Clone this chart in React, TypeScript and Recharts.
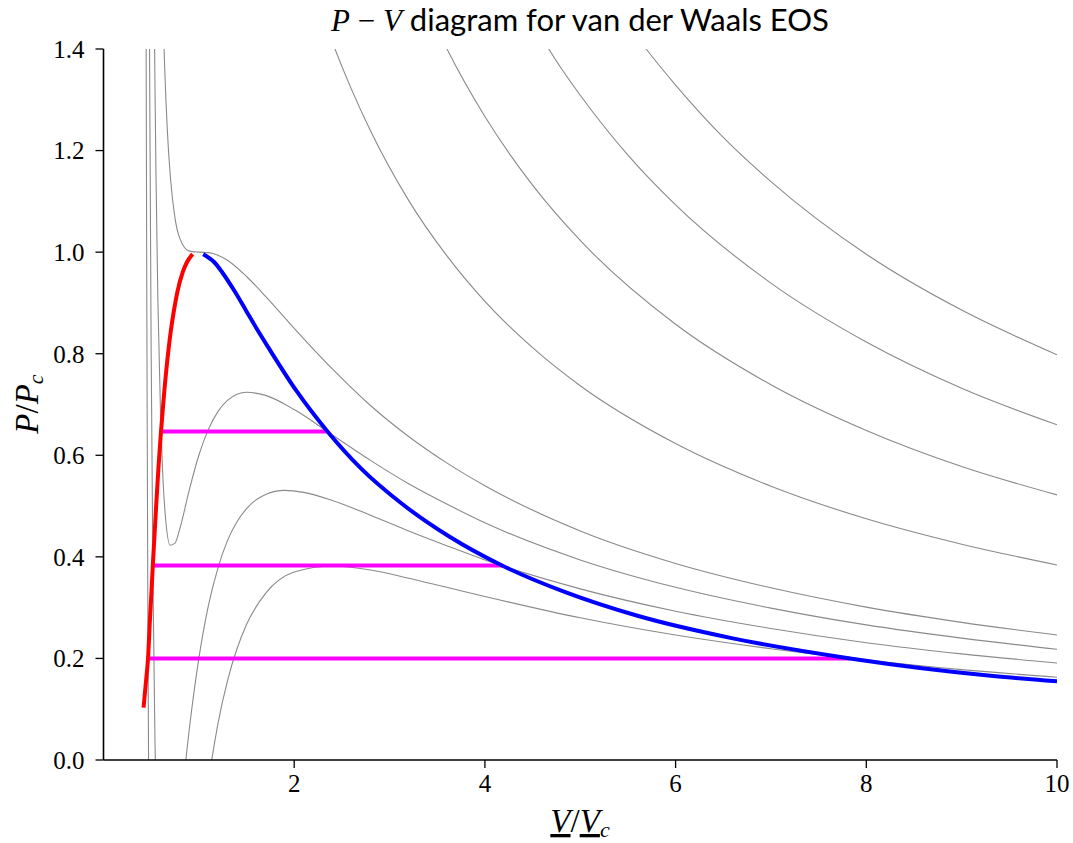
import React from 'react'
import { LineChart, Line, XAxis, YAxis } from 'recharts'

interface Pt {
  v: number
  p: number
}

// isotherms, reduced T = 0.7 ... 3.0
const iso070: Pt[] = [
  { v: 0.44, p: 2.0 }, { v: 0.447, p: 1.41 }, { v: 0.455, p: 0.851 }, { v: 0.465, p: 0.303 },
  { v: 0.48, p: -0.294 }, { v: 0.5, p: -0.8 }, { v: 0.55, p: -1.3 }, { v: 0.6, p: -1.333 },
  { v: 0.7, p: -1.031 }, { v: 0.8, p: -0.688 }, { v: 0.9, p: -0.41 }, { v: 1.0, p: -0.2 },
  { v: 1.1, p: -0.045 }, { v: 1.2, p: 0.071 }, { v: 1.3, p: 0.156 }, { v: 1.4, p: 0.219 },
  { v: 1.5, p: 0.267 }, { v: 1.7, p: 0.328 }, { v: 2.0, p: 0.37 }, { v: 2.4, p: 0.382 },
  { v: 2.8, p: 0.374 }, { v: 3.2, p: 0.358 }, { v: 3.6, p: 0.34 }, { v: 4, p: 0.322 },
  { v: 5, p: 0.28 }, { v: 6, p: 0.246 }, { v: 7, p: 0.219 }, { v: 8, p: 0.197 },
  { v: 9, p: 0.178 }, { v: 10, p: 0.163 },
]

const iso080: Pt[] = [
  { v: 0.47, p: 2.03 }, { v: 0.483, p: 1.39 }, { v: 0.5, p: 0.8 }, { v: 0.52, p: 0.334 },
  { v: 0.54, p: 0.035 }, { v: 0.56, p: -0.154 }, { v: 0.6, p: -0.333 }, { v: 0.65, p: -0.364 },
  { v: 0.7, p: -0.304 }, { v: 0.8, p: -0.116 }, { v: 0.9, p: 0.061 }, { v: 1.0, p: 0.2 },
  { v: 1.1, p: 0.304 }, { v: 1.2, p: 0.378 }, { v: 1.3, p: 0.432 }, { v: 1.4, p: 0.469 },
  { v: 1.5, p: 0.495 }, { v: 1.7, p: 0.523 }, { v: 1.9, p: 0.531 }, { v: 2.1, p: 0.527 },
  { v: 2.4, p: 0.511 }, { v: 2.8, p: 0.482 }, { v: 3.2, p: 0.451 }, { v: 3.6, p: 0.422 },
  { v: 4, p: 0.394 }, { v: 5, p: 0.337 }, { v: 6, p: 0.293 }, { v: 7, p: 0.259 },
  { v: 8, p: 0.231 }, { v: 9, p: 0.209 }, { v: 10, p: 0.191 },
]

const iso090: Pt[] = [
  { v: 0.51, p: 2.051 }, { v: 0.52, p: 1.76 }, { v: 0.53, p: 1.523 }, { v: 0.54, p: 1.325 },
  { v: 0.55, p: 1.16 }, { v: 0.57, p: 0.907 }, { v: 0.6, p: 0.667 }, { v: 0.62, p: 0.568 },
  { v: 0.65, p: 0.478 }, { v: 0.7, p: 0.423 }, { v: 0.75, p: 0.427 }, { v: 0.8, p: 0.455 },
  { v: 0.9, p: 0.532 }, { v: 1.0, p: 0.6 }, { v: 1.1, p: 0.651 }, { v: 1.2, p: 0.686 },
  { v: 1.3, p: 0.708 }, { v: 1.5, p: 0.724 }, { v: 1.7, p: 0.718 }, { v: 2.0, p: 0.69 },
  { v: 2.4, p: 0.64 }, { v: 2.8, p: 0.59 }, { v: 3.2, p: 0.544 }, { v: 3.6, p: 0.504 },
  { v: 4, p: 0.467 }, { v: 5, p: 0.394 }, { v: 6, p: 0.34 }, { v: 7, p: 0.299 },
  { v: 8, p: 0.266 }, { v: 9, p: 0.24 }, { v: 10, p: 0.218 },
]

const iso100: Pt[] = [
  { v: 0.6, p: 1.667 }, { v: 0.62, p: 1.498 }, { v: 0.64, p: 1.372 }, { v: 0.67, p: 1.238 },
  { v: 0.7, p: 1.151 }, { v: 0.75, p: 1.067 }, { v: 0.8, p: 1.027 }, { v: 0.9, p: 1.002 },
  { v: 1.0, p: 1.0 }, { v: 1.1, p: 0.999 }, { v: 1.2, p: 0.994 }, { v: 1.3, p: 0.984 },
  { v: 1.5, p: 0.952 }, { v: 1.7, p: 0.913 }, { v: 2.0, p: 0.85 }, { v: 2.4, p: 0.77 },
  { v: 2.8, p: 0.698 }, { v: 3.2, p: 0.637 }, { v: 3.6, p: 0.585 }, { v: 4, p: 0.54 },
  { v: 5, p: 0.451 }, { v: 6, p: 0.387 }, { v: 7, p: 0.339 }, { v: 8, p: 0.301 },
  { v: 9, p: 0.271 }, { v: 10, p: 0.246 },
]

const iso150: Pt[] = [
  { v: 2.2, p: 1.523 }, { v: 2.4, p: 1.414 }, { v: 2.6, p: 1.321 }, { v: 2.8, p: 1.239 },
  { v: 3.2, p: 1.102 }, { v: 3.6, p: 0.993 }, { v: 4, p: 0.903 }, { v: 4.5, p: 0.812 },
  { v: 5, p: 0.737 }, { v: 6, p: 0.623 }, { v: 7, p: 0.539 }, { v: 8, p: 0.475 },
  { v: 9, p: 0.425 }, { v: 10, p: 0.384 },
]

const iso200: Pt[] = [
  { v: 3.4, p: 1.48 }, { v: 3.6, p: 1.401 }, { v: 4, p: 1.267 }, { v: 4.5, p: 1.132 },
  { v: 5, p: 1.023 }, { v: 6, p: 0.858 }, { v: 7, p: 0.739 }, { v: 8, p: 0.649 },
  { v: 9, p: 0.578 }, { v: 10, p: 0.522 },
]

const iso250: Pt[] = [
  { v: 4.5, p: 1.452 }, { v: 4.8, p: 1.362 }, { v: 5, p: 1.309 }, { v: 5.5, p: 1.191 },
  { v: 6, p: 1.093 }, { v: 7, p: 0.939 }, { v: 8, p: 0.823 }, { v: 9, p: 0.732 },
  { v: 10, p: 0.66 },
]

const iso300: Pt[] = [
  { v: 5.4, p: 1.476 }, { v: 5.7, p: 1.398 }, { v: 6, p: 1.329 }, { v: 6.5, p: 1.226 },
  { v: 7, p: 1.139 }, { v: 8, p: 0.996 }, { v: 9, p: 0.886 }, { v: 10, p: 0.798 },
]

const isotherms = [iso070, iso080, iso090, iso100, iso150, iso200, iso250, iso300]

// Maxwell tie lines
const tie090: Pt[] = [{ v: 0.603, p: 0.647 }, { v: 2.35, p: 0.647 }]
const tie080: Pt[] = [{ v: 0.517, p: 0.383 }, { v: 4.18, p: 0.383 }]
const tie070: Pt[] = [{ v: 0.467, p: 0.2 }, { v: 7.83, p: 0.2 }]

// coexistence curve, liquid and vapour branches
const liquid: Pt[] = [
  { v: 0.42, p: 0.103 }, { v: 0.443, p: 0.15 }, { v: 0.467, p: 0.2 }, { v: 0.489, p: 0.284 },
  { v: 0.5027, p: 0.33 }, { v: 0.517, p: 0.383 }, { v: 0.5342, p: 0.4396 }, { v: 0.5535, p: 0.5045 },
  { v: 0.5759, p: 0.5742 }, { v: 0.603, p: 0.647 }, { v: 0.638, p: 0.7267 }, { v: 0.684, p: 0.8119 },
  { v: 0.708, p: 0.8476 }, { v: 0.738, p: 0.8843 }, { v: 0.775, p: 0.9219 }, { v: 0.831, p: 0.9605 },
  { v: 0.8746, p: 0.9801 }, { v: 0.935, p: 0.996 },
]

const vapour: Pt[] = [
  { v: 1.045, p: 0.996 }, { v: 1.162, p: 0.9801 }, { v: 1.244, p: 0.9605 }, { v: 1.379, p: 0.9219 },
  { v: 1.497, p: 0.8843 }, { v: 1.612, p: 0.8476 }, { v: 1.73, p: 0.8119 }, { v: 2.024, p: 0.7267 },
  { v: 2.349, p: 0.647 }, { v: 2.7, p: 0.5742 }, { v: 3.13, p: 0.5045 }, { v: 3.63, p: 0.4396 },
  { v: 4.18, p: 0.383 }, { v: 4.85, p: 0.33 }, { v: 5.6, p: 0.284 }, { v: 6.6, p: 0.2395 },
  { v: 7.83, p: 0.2 }, { v: 9.33, p: 0.1655 }, { v: 10, p: 0.155 },
]

const xTicks = [2, 4, 6, 8, 10]
const yTicks = [0, 0.2, 0.4, 0.6, 0.8, 1.0, 1.2, 1.4]

const SERIF = '"Liberation Serif", "DejaVu Serif", serif'
const SANS = 'Lato, "Noto Sans", sans-serif'

const tickStyle = { fill: '#000', fontSize: 25, fontFamily: SERIF }
const spine = { stroke: '#000', strokeWidth: 1.6 }
const tickMark = { stroke: '#000', strokeWidth: 1.3 }

export default function App() {
  return (
    <div style={{ position: 'fixed', left: 0, top: 0, width: 1073, height: 843, background: '#fff' }}>
      <LineChart width={1073} height={843} margin={{ top: 49, right: 16, bottom: 23, left: 13.5 }}>
        <XAxis
          type="number"
          dataKey="v"
          domain={[0, 10]}
          ticks={xTicks}
          allowDataOverflow
          height={60}
          tickSize={8}
          tickMargin={6}
          tick={tickStyle}
          axisLine={spine}
          tickLine={tickMark}
        />
        <XAxis
          xAxisId="top"
          orientation="top"
          type="number"
          domain={[0, 10]}
          height={0}
          tick={false}
          tickLine={false}
          axisLine={spine}
        />
        <YAxis
          type="number"
          domain={[0, 1.4]}
          ticks={yTicks}
          allowDataOverflow
          width={90}
          tickSize={8}
          tickMargin={11}
          tickFormatter={(v: number) => v.toFixed(1)}
          tick={tickStyle}
          axisLine={spine}
          tickLine={tickMark}
        />
        <YAxis
          yAxisId="right"
          orientation="right"
          type="number"
          domain={[0, 1.4]}
          width={0}
          tick={false}
          tickLine={false}
          axisLine={spine}
        />

        {isotherms.map((d, i) => (
          <Line
            key={'iso' + i}
            data={d}
            dataKey="p"
            type="monotone"
            stroke="#8a8a8a"
            strokeWidth={1.1}
            dot={false}
            activeDot={false}
            isAnimationActive={false}
          />
        ))}

        {[tie090, tie080, tie070].map((d, i) => (
          <Line
            key={'tie' + i}
            data={d}
            dataKey="p"
            type="linear"
            stroke="#ff00ff"
            strokeWidth={4}
            dot={false}
            activeDot={false}
            isAnimationActive={false}
          />
        ))}

        <Line data={vapour} dataKey="p" type="monotone" stroke="#0000ff" strokeWidth={4}
          dot={false} activeDot={false} isAnimationActive={false} />
        <Line data={liquid} dataKey="p" type="monotone" stroke="#ff0000" strokeWidth={4}
          dot={false} activeDot={false} isAnimationActive={false} />
      </LineChart>

      {/* title and axis labels */}
      <svg width={1073} height={843} style={{ position: 'absolute', left: 0, top: 0, pointerEvents: 'none' }}>
        <text x={580} y={31} textAnchor="middle" fontSize={31} fill="#000">
          <tspan fontFamily={SERIF} fontStyle="italic">P</tspan>
          <tspan fontFamily={SERIF}> − </tspan>
          <tspan fontFamily={SERIF} fontStyle="italic">V</tspan>
          <tspan fontFamily={SANS}> diagram for van der Waals EOS</tspan>
        </text>
        <text x={580} y={832} textAnchor="middle" fontSize={33} fontFamily={SERIF} fill="#000">
          <tspan fontStyle="italic" textDecoration="underline">V</tspan>
          <tspan>/</tspan>
          <tspan fontStyle="italic" textDecoration="underline">V</tspan>
          <tspan fontStyle="italic" fontSize={22} dy={5}>c</tspan>
        </text>
        <text x={38} y={404} textAnchor="middle" fontSize={33} fontFamily={SERIF} fill="#000"
          transform="rotate(-90 38 404)">
          <tspan fontStyle="italic">P</tspan>
          <tspan>/</tspan>
          <tspan fontStyle="italic">P</tspan>
          <tspan fontStyle="italic" fontSize={22} dy={5}>c</tspan>
        </text>
      </svg>
    </div>
  )
}
